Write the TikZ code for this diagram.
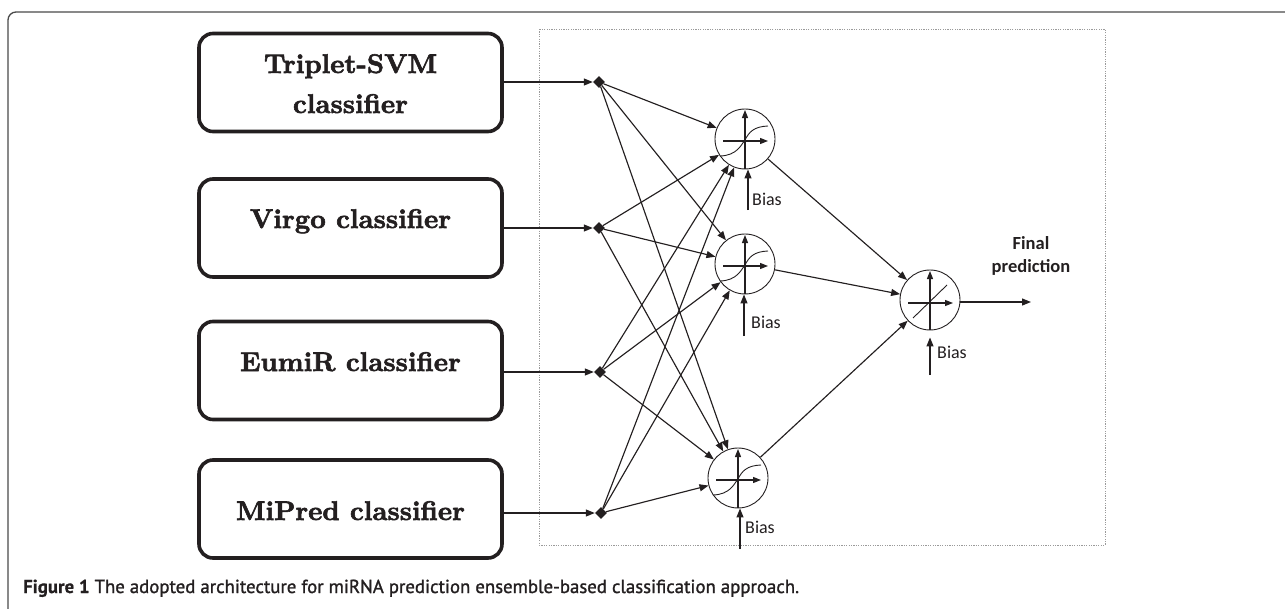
\documentclass[tikz,border=0pt]{standalone}
\usepackage{fontspec}
\newfontfamily\calib{Carlito}
\newfontfamily\capfont{PT Sans}[FakeBold=1.3]
\newfontfamily\capbold{PT Sans Bold}[FakeBold=0.6]
\newfontfamily\boxfont{lmroman10-bold.otf}[FakeBold=2.2]
\usetikzlibrary{arrows.meta,shapes.geometric}
\definecolor{ink}{HTML}{231F20}
\definecolor{framecol}{HTML}{4A4A4A}
\definecolor{dotcol}{HTML}{9A9A9A}
\begin{document}
\begin{tikzpicture}[x=1pt,y=-1pt,
  clsbox/.style={draw=ink, line width=3.6pt, rounded corners=14pt,
    minimum width=303pt, minimum height=98pt, inner sep=0pt},
  clstext/.style={anchor=base, text=ink, inner sep=0pt,
    font=\boxfont\fontsize{27}{30}\selectfont},
  junction/.style={diamond, fill=ink, inner sep=0pt, minimum size=12pt},
  neuron/.style={circle, draw=ink, line width=0.9pt, minimum size=60pt, inner sep=0pt},
  arr/.style={ink, line width=1.15pt, -{Triangle[length=9pt,width=7pt]}},
  axarr/.style={ink, line width=1.2pt, -{Triangle[length=8pt,width=6pt]}},
  curve/.style={ink, line width=0.9pt},
  biastext/.style={anchor=base west, inner sep=0pt, text=ink,
    font=\calib\fontsize{18}{20}\selectfont},
]
\useasboundingbox (0,0) rectangle (1285,608);
\clip (0,0) rectangle (1285,608);

% outer frame
\draw[framecol, line width=1.3pt, rounded corners=8pt] (8,640) -- (8,12) -- (1300,12);
% dotted network area
\draw[dotcol, line width=0.7pt, dash pattern=on 1.2pt off 1.2pt] (539,29) rectangle (1105,545);

% classifier boxes
\node[clsbox] (box1) at (350.5,82.5) {};
\node[clsbox] (box2) at (350.5,228) {};
\node[clsbox] (box3) at (350.5,370.5) {};
\node[clsbox] (box4) at (350.5,509) {};
\node[clstext] (t1a) at (350.5,73) {Triplet-SVM};
\node[clstext] (t1b) at (350.5,113) {classifier};
\node[clstext] (t2) at (350.5,228) {Virgo classifier};
\node[clstext] (t3) at (350.5,371) {EumiR classifier};
\node[clstext] (t4) at (350.5,520) {MiPred classifier};

% junctions
\node[junction] (d1) at (599,82) {};
\node[junction] (d2) at (599,228) {};
\node[junction] (d3) at (600,372) {};
\node[junction] (d4) at (601,513) {};

\draw[arr] (box1.east |- d1) -- (d1);
\draw[arr] (box2.east |- d2) -- (d2);
\draw[arr] (box3.east |- d3) -- (d3);
\draw[arr] (box4.east |- d4) -- (d4);

% neurons
\node[neuron] (h1) at (745,139) {};
\node[neuron] (h2) at (745,264) {};
\node[neuron] (h3) at (738,478) {};
\node[neuron] (o) at (930,300) {};

% sigmoid symbols
\foreach \h in {h1,h2,h3}{
  \begin{scope}[shift={(\h.center)}]
    \draw[axarr] (0,29.5) -- (0,-29);
    \draw[axarr] (-22,2) -- (23,2);
    \draw[curve] (-25,17) .. controls (-8,16.5) and (-4,6) .. (0,1)
                 .. controls (4,-7) and (9,-12.5) .. (23,-13);
  \end{scope}
}
% linear symbol
\begin{scope}[shift={(o.center)}]
  \draw[axarr] (0,29.5) -- (0,-29);
  \draw[axarr] (-22,3) -- (23,3);
  \draw[curve] (-17,18) -- (17,-15);
\end{scope}

% connections
\foreach \d in {d1,d2,d3,d4}{
  \foreach \h in {h1,h2,h3}{
    \draw[arr] (\d) -- (\h);
  }
}
\foreach \h in {h1,h2,h3}{
  \draw[arr] (\h) -- (o);
}

% bias inputs
\coordinate (b1) at (748,210);
\coordinate (b2) at (744,336);
\coordinate (b3) at (740,549);
\coordinate (bo) at (930,375);
\draw[arr] (b1) -- (b1 |- h1.south);
\draw[arr] (b2) -- (b2 |- h2.south);
\draw[arr] (b3) -- (b3 |- h3.south);
\draw[arr] (bo) -- ([yshift=-7pt]o.south);
\node[biastext] (bt1) at (752,205) {Bias};
\node[biastext] (bt2) at (751,328) {Bias};
\node[biastext] (bt3) at (745,533) {Bias};
\node[biastext] (bto) at (937,358) {Bias};

% output
\coordinate (fp) at (1031,302);
\draw[arr] (o.east |- fp) -- (fp);
\node[align=center, inner sep=0pt, text=ink,
  font=\calib\bfseries\fontsize{18.5}{22.5}\selectfont] (fptext) at (1031,256) {Final\\prediction};

% caption
\node[anchor=base west, inner sep=0pt, text=ink, font=\capfont\fontsize{18.8}{22}\selectfont]
  (cap) at (23,593) {{\capbold Figure 1} The adopted architecture for miRNA prediction ensemble-based classification approach.};
\end{tikzpicture}
\end{document}
